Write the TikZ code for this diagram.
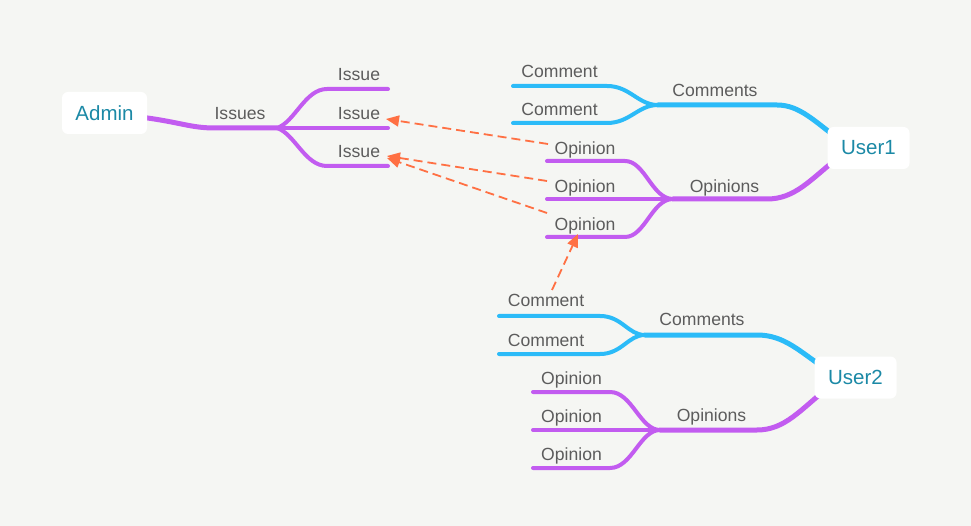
\documentclass[tikz,border=0pt]{standalone}
\usepackage{fontspec}
\setmainfont{Liberation Sans}
\usetikzlibrary{arrows.meta}
\definecolor{bg}{RGB}{245,246,243}
\definecolor{topicblue}{RGB}{43,187,248}
\definecolor{topicpurple}{RGB}{194,92,240}
\definecolor{linkorange}{RGB}{255,112,67}
\definecolor{labelgray}{RGB}{92,92,92}
\definecolor{roottext}{RGB}{27,137,166}
\begin{document}
\begin{tikzpicture}[x=1pt,y=-1pt,
  branch/.style={line width=5pt,line cap=round},
  twig/.style={line width=4pt,line cap=round},
  lbl/.style={font=\fontsize{17.6}{20}\selectfont,text=labelgray,anchor=base,inner sep=0pt},
  rootbox/.style={fill=white,rounded corners=6pt,minimum width=82pt,minimum height=42pt,
    font=\fontsize{20.5}{24}\selectfont,text=roottext,inner sep=0pt},
  link/.style={linkorange,line width=1.8pt,dash pattern=on 9pt off 5pt,
    -{Triangle[length=13pt,width=11pt]}}]
\fill[bg] (0,0) rectangle (971,526);
\useasboundingbox (0,0) rectangle (971,526);

% ---------- Admin: Issues ----------
\coordinate (adminIn) at (140,117);
\coordinate (jI) at (277,128);
\draw[topicpurple,branch] (adminIn) .. controls (180,122) and (190,128) .. (215,128) -- (jI);
\coordinate (iss1) at (388,89);
\coordinate (iss2) at (388,128);
\coordinate (iss3) at (388,166);
\draw[topicpurple,twig] (jI) .. controls (295,122) and (305,89) .. (327,89) -- (iss1);
\draw[topicpurple,twig] (jI) -- (iss2);
\draw[topicpurple,twig] (jI) .. controls (295,134) and (305,166) .. (327,166) -- (iss3);

% ---------- User1: Comments ----------
\coordinate (u1cIn) at (840,140);
\coordinate (jC1) at (658,105);
\draw[topicblue,branch] (jC1) -- (777,105) .. controls (800,105) and (815,122) .. (u1cIn);
\coordinate (c11) at (513,86);
\coordinate (c12) at (513,123);
\draw[topicblue,twig] (c11) -- (607,86) .. controls (630,86) and (638,105) .. (jC1);
\draw[topicblue,twig] (c12) -- (607,123) .. controls (630,123) and (638,105) .. (jC1);

% ---------- User1: Opinions ----------
\coordinate (u1oIn) at (840,156);
\coordinate (jO1) at (673,199);
\draw[topicpurple,branch] (jO1) -- (767,199) .. controls (795,199) and (810,180) .. (u1oIn);
\coordinate (o11) at (547,161);
\coordinate (o12) at (547,199);
\coordinate (o13) at (547,237);
\draw[topicpurple,twig] (o11) -- (625,161) .. controls (645,161) and (652,199) .. (jO1);
\draw[topicpurple,twig] (o12) -- (jO1);
\draw[topicpurple,twig] (o13) -- (625,237) .. controls (645,237) and (652,199) .. (jO1);

% ---------- User2: Comments ----------
\coordinate (u2cIn) at (830,372);
\coordinate (jC2) at (645,335);
\draw[topicblue,branch] (jC2) -- (757,335) .. controls (785,335) and (800,352) .. (u2cIn);
\coordinate (c21) at (499,316);
\coordinate (c22) at (499,354);
\draw[topicblue,twig] (c21) -- (600,316) .. controls (622,316) and (628,335) .. (jC2);
\draw[topicblue,twig] (c22) -- (600,354) .. controls (622,354) and (628,335) .. (jC2);

% ---------- User2: Opinions ----------
\coordinate (u2oIn) at (830,386);
\coordinate (jO2) at (660,430);
\draw[topicpurple,branch] (jO2) -- (757,430) .. controls (785,430) and (800,410) .. (u2oIn);
\coordinate (o21) at (533,392);
\coordinate (o22) at (533,430);
\coordinate (o23) at (533,468);
\draw[topicpurple,twig] (o21) -- (610,392) .. controls (632,392) and (640,430) .. (jO2);
\draw[topicpurple,twig] (o22) -- (jO2);
\draw[topicpurple,twig] (o23) -- (610,468) .. controls (632,468) and (640,430) .. (jO2);

% ---------- central topics ----------
\node[rootbox,minimum width=85pt] (admin) at (104.5,113) {Admin};
\node[rootbox] (user1) at (868.5,148) {User1};
\node[rootbox] (user2) at (855.5,377.5) {User2};

% ---------- labels ----------
\node[lbl] (issues) at (240,120) {Issues};
\node[lbl] (issueA) at (359,81) {Issue};
\node[lbl] (issueB) at (359,120) {Issue};
\node[lbl] (issueC) at (359,158) {Issue};

\node[lbl] (comments1) at (715,97) {Comments};
\node[lbl] (comment11) at (559.5,78) {Comment};
\node[lbl] (comment12) at (559.5,116) {Comment};
\node[lbl] (opinions1) at (724.5,193) {Opinions};
\node[lbl] (opinion11) at (585,155) {Opinion};
\node[lbl] (opinion12) at (585,193) {Opinion};
\node[lbl] (opinion13) at (585,231) {Opinion};

\node[lbl] (comments2) at (702,326) {Comments};
\node[lbl] (comment21) at (546,307) {Comment};
\node[lbl] (comment22) at (546,346) {Comment};
\node[lbl] (opinions2) at (711.5,421) {Opinions};
\node[lbl] (opinion21) at (571.5,384) {Opinion};
\node[lbl] (opinion22) at (571.5,422) {Opinion};
\node[lbl] (opinion23) at (571.5,460) {Opinion};

% ---------- relation links ----------
\coordinate (l1s) at (548,144);
\coordinate (l1e) at (386,119);
\coordinate (l2s) at (547,181);
\coordinate (l2e) at (387,156);
\coordinate (l3s) at (547,213);
\coordinate (l3e) at (387,158);
\coordinate (l4s) at (552,290);
\coordinate (l4e) at (578,234);
\draw[link] (l1s) -- (l1e);
\draw[link] (l2s) -- (l2e);
\draw[link] (l3s) -- (l3e);
\draw[link] (l4s) -- (l4e);
\end{tikzpicture}
\end{document}
